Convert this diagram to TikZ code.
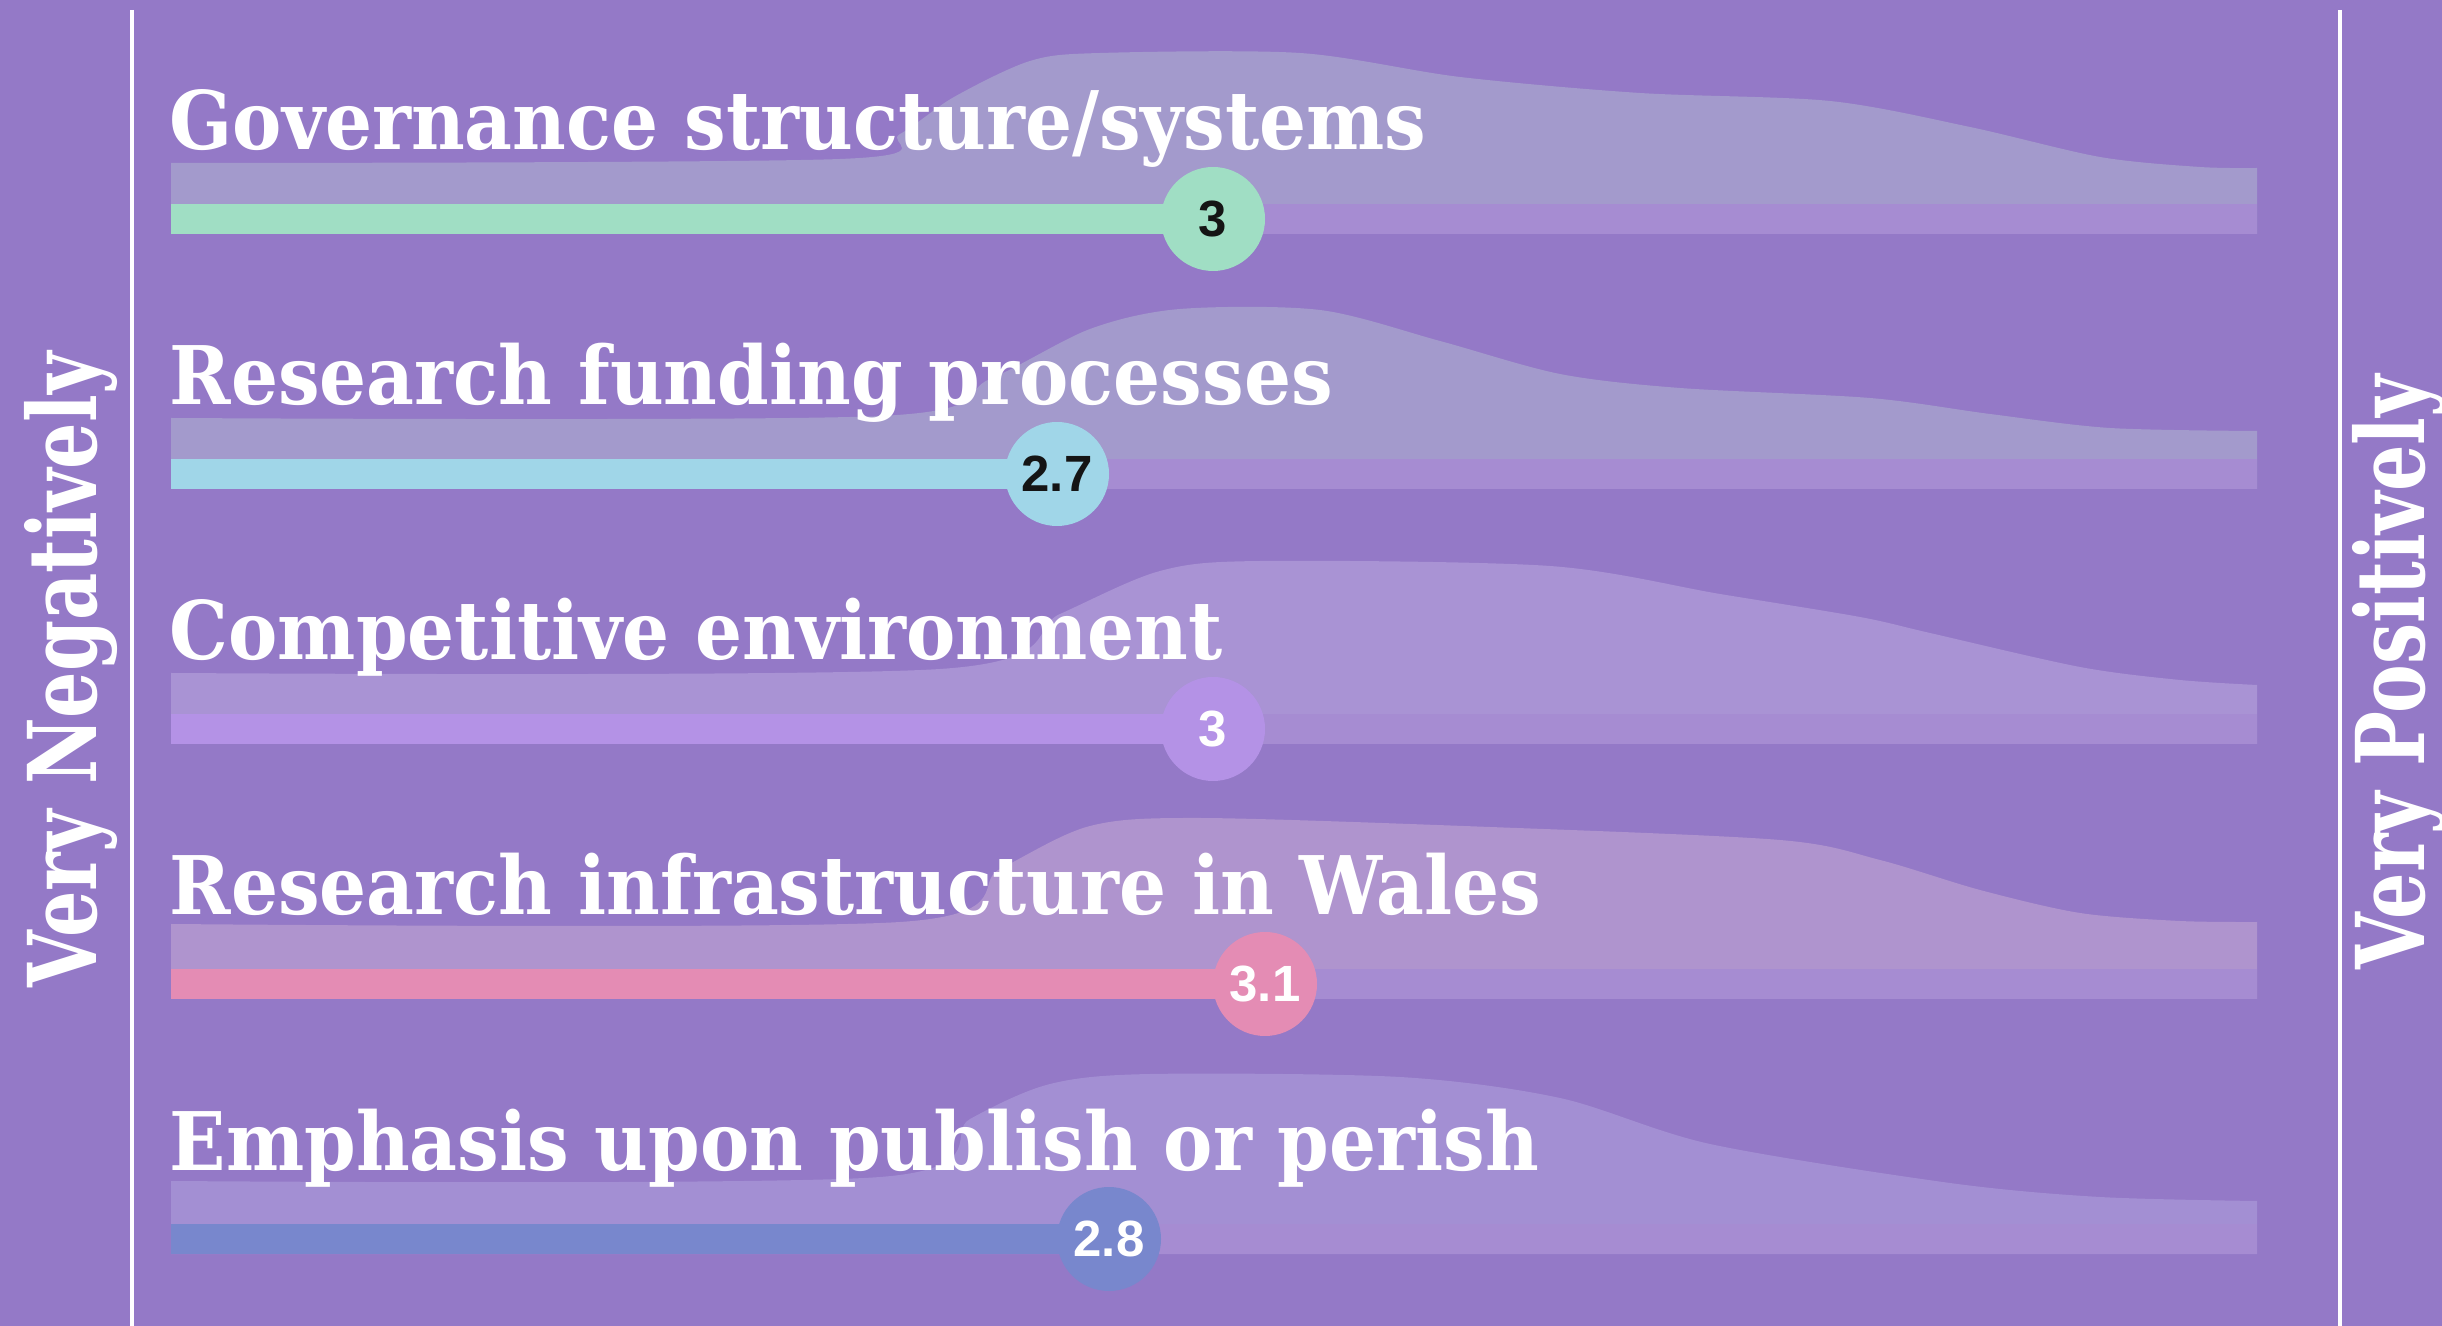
\documentclass[tikz,border=0pt]{standalone}
\usepackage{fontspec}
\usepackage{xcolor}
\usepackage{tikz}
\usetikzlibrary{positioning, calc}
\newfontfamily\slabfont{DejaVu Serif}[FakeStretch=0.915]
\newfontfamily\sideslab{DejaVu Serif}[FakeStretch=0.77]
\newfontfamily\numfont{Liberation Sans}
\definecolor{panelpurple}{HTML}{9479C7}
\definecolor{trackviolet}{HTML}{A68CD2}
\definecolor{mintbar}{HTML}{A0DEC4}
\definecolor{skybar}{HTML}{A0D6E8}
\definecolor{lilacbar}{HTML}{B492E6}
\definecolor{rosebar}{HTML}{E48CB4}
\definecolor{cobaltbar}{HTML}{7887CD}
\definecolor{ridgegrey}{HTML}{A39ACC}
\definecolor{ridgelilac}{HTML}{A993D4}
\definecolor{ridgerose}{HTML}{AF94CE}
\definecolor{ridgeblue}{HTML}{A38FD3}
\definecolor{inkdark}{HTML}{151515}

\tikzset{
  rowtitle/.style={white, anchor=base west, inner sep=0pt, font=\slabfont\bfseries\fontsize{23}{23}\selectfont},
  scoredot/.style={circle, inner sep=0pt, minimum size=1.04cm, font=\numfont\bfseries\fontsize{14.5}{14.5}\selectfont},
  sidelabel/.style={white, rotate=90, anchor=base, inner sep=0pt, font=\sideslab\bfseries\fontsize{27}{27}\selectfont},
}

\begin{document}
\begin{tikzpicture}
  % Panel background
  \useasboundingbox (0,0) rectangle (24.42,-13.26);
  \fill[panelpurple] (0,0) rectangle (24.42,-13.26);

  % Scale end lines
  \draw[white, line width=0.9pt] (1.32,-0.1) -- (1.32,-13.26);
  \draw[white, line width=0.9pt] (23.40,-0.1) -- (23.40,-13.26);

  % Scale end labels
  \node[sidelabel] (neg) at (0.97,-6.70) {Very Negatively};
  \node[sidelabel] (pos) at (24.24,-6.72) {Very Positively};

  % Density ridges (one per row, bar centre at y=0 of each scope)
  \begin{scope}[shift={(0,-2.19)}]
    \fill[ridgegrey] (1.71,-0.15) -- plot[smooth] coordinates {(1.71,0.56) (8.4,0.6) (9.0,0.85) (9.54,1.22) (10.3,1.58) (11.0,1.66) (13.0,1.66) (14.6,1.42) (16.4,1.26) (18.3,1.18) (19.7,0.92) (21.0,0.62) (22.0,0.52) (22.57,0.51)} -- (22.57,-0.15) -- cycle;
  \end{scope}
  \begin{scope}[shift={(0,-4.74)}]
    \fill[ridgegrey] (1.71,-0.15) -- plot[smooth] coordinates {(1.71,0.56) (8.8,0.58) (9.9,0.95) (10.9,1.45) (11.8,1.65) (13.2,1.64) (14.4,1.33) (15.6,1.0) (16.8,0.86) (18.7,0.76) (19.9,0.60) (21.1,0.46) (22.57,0.43)} -- (22.57,-0.15) -- cycle;
  \end{scope}
  \begin{scope}[shift={(0,-7.29)}]
    \fill[ridgelilac] (1.71,-0.15) -- plot[smooth] coordinates {(1.71,0.56) (9.4,0.6) (10.6,1.15) (11.6,1.58) (12.6,1.68) (15.5,1.63) (17.2,1.35) (18.6,1.12) (19.3,0.96) (20.8,0.62) (21.8,0.49) (22.57,0.44)} -- (22.57,-0.15) -- cycle;
  \end{scope}
  \begin{scope}[shift={(0,-9.84)}]
    \fill[ridgerose] (1.71,-0.15) -- plot[smooth] coordinates {(1.71,0.6) (9.0,0.62) (10.0,1.15) (10.9,1.58) (12.0,1.66) (14.9,1.57) (17.8,1.44) (18.8,1.24) (19.8,0.94) (20.8,0.71) (21.8,0.63) (22.57,0.62)} -- (22.57,-0.15) -- cycle;
  \end{scope}
  \begin{scope}[shift={(0,-12.39)}]
    \fill[ridgeblue] (1.71,-0.15) -- plot[smooth] coordinates {(1.71,0.58) (8.8,0.62) (9.7,1.2) (10.5,1.55) (11.5,1.65) (14.0,1.62) (15.6,1.41) (17.1,0.95) (19.5,0.56) (21.0,0.42) (22.57,0.38)} -- (22.57,-0.15) -- cycle;
  \end{scope}

  % Tracks, score bars, score dots and row titles
  \foreach \i/\yy/\sx/\val/\barcol/\txtcol/\title in {
      1/-2.19/12.13/3/mintbar/inkdark/{Governance structure/systems},
      2/-4.74/10.57/2.7/skybar/inkdark/{Research funding processes},
      3/-7.29/12.13/3/lilacbar/white/{Competitive environment},
      4/-9.84/12.65/3.1/rosebar/white/{Research infrastructure in Wales},
      5/-12.39/11.09/2.8/cobaltbar/white/{Emphasis upon publish or perish}} {
    \begin{scope}[shift={(0,\yy)}]
      \fill[trackviolet] (1.71,-0.15) rectangle (22.57,0.15);
      \fill[\barcol] (1.71,-0.15) rectangle (\sx,0.15);
      \node[scoredot, fill=\barcol, text=\txtcol] (v\i) at (\sx,0) {\val};
      \node[rowtitle] (t\i) at (1.69,0.69) {\title};
    \end{scope}
  }
\end{tikzpicture}
\end{document}
